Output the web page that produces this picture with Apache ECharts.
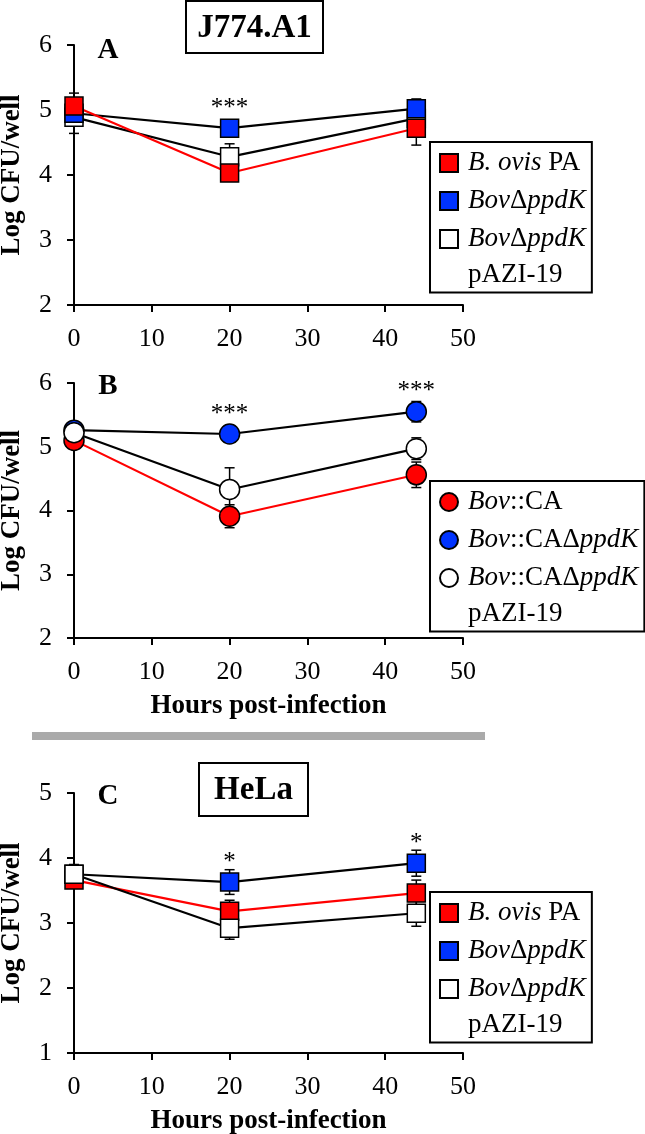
<!DOCTYPE html>
<html><head><meta charset="utf-8">
<script src="https://cdn.jsdelivr.net/npm/echarts@6/dist/echarts.min.js"></script>
<style>html,body{margin:0;padding:0;background:#fff}#c{width:645px;height:1134px}</style>
</head><body><div id="c"></div>
<script>
// ---------- data ----------
const hours = [0, 20, 44];
// Panel A: J774.A1, B. ovis PA background
const A_ovisPA = [5.06, 4.03, 4.72];
const A_ovisPA_err = [0.2, 0.1, 0.26];
const A_ppdK = [4.95, 4.72, 5.02];
const A_ppdK_err = [0.1, 0.08, 0.15];
const A_comp = [4.89, 4.28, 4.87];
const A_comp_err = [0.25, 0.2, 0.1];
const A_stars = ['', '***', ''];
// Panel B: J774.A1, Bov::CA background
const B_CA = [5.1, 3.91, 4.56];
const B_CA_err = [0.05, 0.18, 0.2];
const B_ppdK = [5.26, 5.2, 5.55];
const B_ppdK_err = [0.05, 0.05, 0.16];
const B_comp = [5.22, 4.33, 4.97];
const B_comp_err = [0.05, 0.34, 0.17];
const B_stars = ['', '***', '***'];
// Panel C: HeLa, B. ovis PA background
const C_ovisPA = [3.66, 3.18, 3.46];
const C_ovisPA_err = [0.08, 0.17, 0.2];
const C_ppdK = [3.75, 3.63, 3.92];
const C_ppdK_err = [0.05, 0.19, 0.2];
const C_comp = [3.75, 2.92, 3.15];
const C_comp_err = [0.15, 0.17, 0.2];
const C_stars = ['', '*', '*'];

const seriesNamesA = ['B. ovis PA', 'BovΔppdK', 'BovΔppdK pAZI-19'];
const seriesNamesB = ['Bov::CA', 'Bov::CAΔppdK', 'Bov::CAΔppdK pAZI-19'];
const legendLabels = {
  'B. ovis PA': '{i|B. ovis} PA',
  'BovΔppdK': '{i|Bov}Δ{i|ppdK}',
  'BovΔppdK pAZI-19': '{i|Bov}Δ{i|ppdK}\npAZI-19',
  'Bov::CA': '{i|Bov}::CA',
  'Bov::CAΔppdK': '{i|Bov}::CAΔ{i|ppdK}',
  'Bov::CAΔppdK pAZI-19': '{i|Bov}::CAΔ{i|ppdK}\npAZI-19'
};
const xTickMin = 0, xTickMax = 50, xTickStep = 10;
const yRangeAB = [2, 6], yRangeC = [1, 5];
const xName = 'Hours post-infection';
const yName = 'Log CFU/well';

// ---------- style ----------
const FF = '"Liberation Serif", "Times New Roman", serif';
const RED = '#ff0000', BLUE = '#0033ff', WHITE = '#ffffff';
const LH = 36;

const grids = [
  {left: 74, top: 45, width: 389, height: 260, outerBoundsMode: 'none', containLabel: false},
  {left: 74, top: 383, width: 389, height: 255, outerBoundsMode: 'none', containLabel: false},
  {left: 74, top: 793, width: 389, height: 260, outerBoundsMode: 'none', containLabel: false}
];

function xAxis(i, withName) {
  return {
    gridIndex: i, type: 'value', min: xTickMin, max: xTickMax, interval: xTickStep,
    name: withName ? xName : '', nameLocation: 'middle', nameGap: 55,
    nameTextStyle: {fontFamily: FF, fontWeight: 'bold', fontSize: 27, color: '#000'},
    axisLine: {show: true, onZero: false, lineStyle: {color: '#000', width: 2}},
    axisTick: {show: true, length: 7, lineStyle: {color: '#000', width: 2}},
    axisLabel: {fontFamily: FF, fontSize: 26, color: '#000', margin: 21},
    splitLine: {show: false}
  };
}
function yAxis(i, range) {
  return {
    gridIndex: i, type: 'value', min: range[0], max: range[1], interval: 1,
    name: yName, nameLocation: 'middle', nameGap: 48,
    nameTextStyle: {fontFamily: FF, fontWeight: 'bold', fontSize: 27, color: '#000'},
    axisLine: {show: true, onZero: false, lineStyle: {color: '#000', width: 2}},
    axisTick: {show: true, length: 7, lineStyle: {color: '#000', width: 2}},
    axisLabel: {fontFamily: FF, fontSize: 26, color: '#000', margin: 22},
    splitLine: {show: false}
  };
}

function zip(vals) { return hours.map((h, k) => [h, vals[k]]); }
function zipErr(vals, errs) { return hours.map((h, k) => [h, vals[k], errs[k]]); }

function lineSeries(name, gi, vals, color, lineColor, symbol, size, stars) {
  const s = {
    name: name, type: 'line', xAxisIndex: gi, yAxisIndex: gi,
    data: zip(vals), symbol: symbol, symbolSize: size, showAllSymbol: true,
    itemStyle: {color: color, borderColor: '#000', borderWidth: 1.5, opacity: 1},
    lineStyle: {color: lineColor, width: 2.2},
    emphasis: {disabled: true}, animation: false, z: 3
  };
  if (stars) {
    s.markPoint = {
      symbol: 'circle', symbolSize: 0, animation: false, silent: true,
      label: {show: true, position: 'inside', offset: [0, -20], fontFamily: FF, fontSize: 25, color: '#000',
              formatter: p => p.data.value},
      data: hours.map((h, k) => ({coord: [h, vals[k]], value: stars[k]})).filter(d => d.value)
    };
  }
  return s;
}

function errSeries(gi, vals, errs) {
  return {
    type: 'custom', xAxisIndex: gi, yAxisIndex: gi, data: zipErr(vals, errs), z: 2,
    silent: true, animation: false,
    renderItem: function (params, api) {
      const x = api.value(0), y = api.value(1), e = api.value(2);
      const t = api.coord([x, y + e]), b = api.coord([x, y - e]);
      const w = 5;
      const st = {stroke: '#000', lineWidth: 1.5};
      return {type: 'group', children: [
        {type: 'line', shape: {x1: t[0], y1: t[1], x2: b[0], y2: b[1]}, style: st},
        {type: 'line', shape: {x1: t[0] - w, y1: t[1], x2: t[0] + w, y2: t[1]}, style: st},
        {type: 'line', shape: {x1: b[0] - w, y1: b[1], x2: b[0] + w, y2: b[1]}, style: st}
      ]};
    }
  };
}

function legend(names, icon, left, top) {
  return {
    orient: 'vertical', left: left, top: top, icon: icon,
    itemWidth: 18, itemHeight: 18, itemGap: 2,
    padding: [3, 6, 4, 9], borderColor: '#000', borderWidth: 2, backgroundColor: '#fff',
    selectedMode: false,
    itemStyle: {borderColor: '#000', borderWidth: 2},
    textStyle: {fontFamily: FF, fontSize: 27, color: '#000', lineHeight: LH, padding: [0, 0, 0, 5],
                rich: {i: {fontFamily: FF, fontSize: 27, fontStyle: 'italic', color: '#000', lineHeight: LH}}},
    formatter: n => legendLabels[n],
    data: names.map((n, k) => k === 2 ? {name: n, textStyle: {padding: [0, 0, -LH, 5]}} : {name: n})
  };
}

const option = {
  backgroundColor: '#fff',
  animation: false,
  grid: grids,
  xAxis: [xAxis(0, false), xAxis(1, true), xAxis(2, true)],
  yAxis: [yAxis(0, yRangeAB), yAxis(1, yRangeAB), yAxis(2, yRangeC)],
  legend: [
    legend(seriesNamesA, 'rect', 430, 142),
    legend(seriesNamesB, 'circle', 430, 481),
    legend(seriesNamesA, 'rect', 430, 892)
  ],
  series: [
    // Panel A (white bottom, blue, red top)
    errSeries(0, A_comp, A_comp_err), errSeries(0, A_ppdK, A_ppdK_err), errSeries(0, A_ovisPA, A_ovisPA_err),
    lineSeries(seriesNamesA[2], 0, A_comp, WHITE, '#000', 'rect', 18),
    lineSeries(seriesNamesA[1], 0, A_ppdK, BLUE, '#000', 'rect', 18, A_stars),
    lineSeries(seriesNamesA[0], 0, A_ovisPA, RED, RED, 'rect', 18),
    // Panel B
    errSeries(1, B_comp, B_comp_err), errSeries(1, B_ppdK, B_ppdK_err), errSeries(1, B_CA, B_CA_err),
    lineSeries(seriesNamesB[0], 1, B_CA, RED, RED, 'circle', 20),
    lineSeries(seriesNamesB[1], 1, B_ppdK, BLUE, '#000', 'circle', 20, B_stars),
    lineSeries(seriesNamesB[2], 1, B_comp, WHITE, '#000', 'circle', 20),
    // Panel C (red bottom, blue, white top)
    errSeries(2, C_comp, C_comp_err), errSeries(2, C_ppdK, C_ppdK_err), errSeries(2, C_ovisPA, C_ovisPA_err),
    lineSeries(seriesNamesA[0] , 2, C_ovisPA, RED, RED, 'rect', 18),
    lineSeries(seriesNamesA[1], 2, C_ppdK, BLUE, '#000', 'rect', 18, C_stars),
    lineSeries(seriesNamesA[2], 2, C_comp, WHITE, '#000', 'rect', 18)
  ],
  graphic: [
    {type: 'rect', shape: {x: 186, y: 1, width: 137, height: 52}, style: {fill: '#fff', stroke: '#000', lineWidth: 2}},
    {type: 'text', x: 254.5, y: 28, style: {text: 'J774.A1', font: 'bold 33px ' + FF, fill: '#000', align: 'center', verticalAlign: 'middle'}},
    {type: 'rect', shape: {x: 199, y: 763, width: 109, height: 53}, style: {fill: '#fff', stroke: '#000', lineWidth: 2}},
    {type: 'text', x: 253.5, y: 790, style: {text: 'HeLa', font: 'bold 33px ' + FF, fill: '#000', align: 'center', verticalAlign: 'middle'}},
    {type: 'text', x: 108, y: 51, style: {text: 'A', font: 'bold 29px ' + FF, fill: '#000', align: 'center', verticalAlign: 'middle'}},
    {type: 'text', x: 108, y: 387, style: {text: 'B', font: 'bold 29px ' + FF, fill: '#000', align: 'center', verticalAlign: 'middle'}},
    {type: 'text', x: 108, y: 797, style: {text: 'C', font: 'bold 29px ' + FF, fill: '#000', align: 'center', verticalAlign: 'middle'}},
    {type: 'rect', shape: {x: 32, y: 732, width: 453, height: 8}, style: {fill: '#aaaaaa'}}
  ]
};

const chart = echarts.init(document.getElementById('c'), null, {renderer: 'canvas'});
chart.setOption(option);
</script>
</body></html>
